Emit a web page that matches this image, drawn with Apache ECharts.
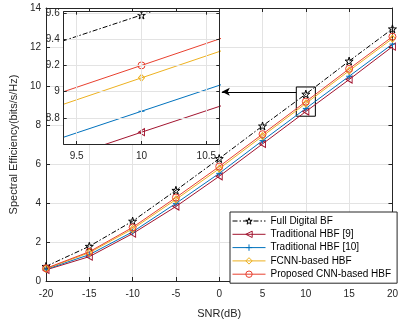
<!DOCTYPE html>
<html><head><meta charset="utf-8">
<script src="https://cdn.jsdelivr.net/npm/echarts@6/dist/echarts.min.js"></script>
<style>html,body{margin:0;padding:0;background:#fff}#c{width:401px;height:324px}</style>
</head><body><div id="c"></div>
<script>
// ---- data ----
const snr = [-20, -15, -10, -5, 0, 5, 10, 15, 20];
const fullDigital = [0.75, 1.78, 3.07, 4.65, 6.28, 7.95, 9.585, 11.28, 12.93];
const hbf9        = [0.57, 1.25, 2.43, 3.82, 5.37, 7.03, 8.69, 10.33, 12.02];
const hbf10       = [0.60, 1.35, 2.52, 3.98, 5.52, 7.20, 8.85, 10.50, 12.15];
const fcnn        = [0.63, 1.45, 2.67, 4.18, 5.76, 7.43, 9.105, 10.78, 12.43];
const cnn         = [0.65, 1.50, 2.75, 4.28, 5.87, 7.53, 9.20, 10.88, 12.53];
const seriesNames = ['Full Digital BF', 'Traditional HBF [9]', 'Traditional HBF [10]', 'FCNN-based HBF', 'Proposed CNN-based HBF'];
const insetXTicks = [9.5, 10, 10.5];
const zoomBoxX = [8.9, 11.1];
const zoomBoxY = [8.45, 9.95];
const arrowY = 9.7;
const arrowEndX = 0.3;

const FONT = '"Liberation Sans", Arial, sans-serif';
const AX = '#262626';
const GRIDC = '#e3e3e3';

const STAR = 'path://M50,0L61,35L98,35L68,57L79,91L50,70L21,91L32,57L2,35L39,35Z';
const TRI_L = 'path://M0,50L100,0L100,100Z';
const PLUS = 'path://M50,0L50,100M0,50L100,50';
const DIAM = 'path://M50,0L100,50L50,100L0,50Z';
const CIRC = 'path://M50,0A50,50 0 1,1 50,100A50,50 0 1,1 50,0Z';

const defs = [
  {name: seriesNames[0], data: fullDigital, color: '#000000', symbol: STAR, size: 8, type: [5, 2, 1.5, 2]},
  {name: seriesNames[1], data: hbf9, color: '#A2142F', symbol: TRI_L, size: [6, 7], type: 'solid'},
  {name: seriesNames[2], data: hbf10, color: '#0072BD', symbol: PLUS, size: 6, type: 'solid'},
  {name: seriesNames[3], data: fcnn, color: '#EDB120', symbol: DIAM, size: [6, 7], type: 'solid'},
  {name: seriesNames[4], data: cnn, color: '#E8402F', symbol: CIRC, size: 7, type: 'solid'}
];

function mk(d, gi, z) {
  return {
    type: 'line', name: d.name,
    xAxisIndex: gi, yAxisIndex: gi,
    data: snr.map((x, i) => [x, d.data[i]]),
    symbol: d.symbol, symbolSize: d.size,
    showAllSymbol: true,
    lineStyle: {color: d.color, width: 1, type: d.type},
    itemStyle: {color: 'rgba(255,255,255,0)', borderColor: d.color, borderWidth: 1},
    emphasis: {disabled: true},
    animation: false, z: z, clip: true
  };
}

const series = [];
defs.forEach(d => series.push(mk(d, 0, 2)));
series[0].markArea = {
  silent: true,
  itemStyle: {color: 'rgba(0,0,0,0)', borderColor: '#000', borderWidth: 1},
  data: [[{coord: [zoomBoxX[0], zoomBoxY[0]]}, {coord: [zoomBoxX[1], zoomBoxY[1]]}]]
};
series[0].markLine = {
  silent: true, z: 8,
  symbol: ['none', 'arrow'], symbolSize: [6, 8],
  lineStyle: {color: '#000', width: 1, type: 'solid'},
  label: {show: false},
  data: [[{coord: [zoomBoxX[0], arrowY]}, {coord: [arrowEndX, arrowY]}]]
};
defs.forEach(d => series.push(mk(d, 1, 10)));

const labelStyle = {color: AX, fontFamily: FONT, fontSize: 10};
function insetYFmt(v) { return (v < 8.65 || v > 9.605) ? '' : String(+v.toFixed(1)); }

const legendData = defs.map(d => ({
  name: d.name,
  itemStyle: {color: 'rgba(255,255,255,0)', borderColor: d.color, borderWidth: 1},
  lineStyle: {color: d.color, width: 1, type: d.type}
}));

const chart = echarts.init(document.getElementById('c'), null, {renderer: 'canvas'});
chart.setOption({
  animation: false,
  backgroundColor: '#fff',
  textStyle: {fontFamily: FONT},
  grid: [
    {left: 39.4, right: 3, top: 8, bottom: 36},
    {left: 63.7, top: 11.7, width: 155.6, height: 132.3, show: true, backgroundColor: '#fff', borderWidth: 0, z: 5}
  ],
  legend: {
    data: legendData,
    orient: 'vertical',
    left: 230, top: 212,
    padding: [3, 6, 3, 2],
    itemWidth: 33, itemHeight: 8, itemGap: 1.3,
    backgroundColor: '#fff', borderColor: '#262626', borderWidth: 1,
    textStyle: {color: '#000', fontFamily: FONT, fontSize: 10, lineHeight: 12},
    selectedMode: false, z: 6
  },
  xAxis: [
    {type: 'value', gridIndex: 0, min: -20, max: 20, interval: 5, position: 'bottom',
     name: 'SNR(dB)', nameLocation: 'middle', nameGap: 27,
     nameTextStyle: {color: AX, fontFamily: FONT, fontSize: 11},
     axisLine: {show: true, onZero: false, lineStyle: {color: AX, width: 1}},
     axisTick: {show: true, inside: true, length: 4, lineStyle: {color: AX}},
     axisLabel: Object.assign({margin: 8}, labelStyle),
     splitLine: {show: true, lineStyle: {color: GRIDC, width: 1}}},
    {type: 'value', gridIndex: 1, min: 9.4, max: 10.6, position: 'bottom', z: 11,
     axisLine: {show: true, onZero: false, lineStyle: {color: AX, width: 1}},
     axisTick: {show: true, inside: true, length: 3, lineStyle: {color: AX}, customValues: insetXTicks},
     axisLabel: Object.assign({margin: 7, customValues: insetXTicks}, labelStyle),
     splitLine: {show: true, lineStyle: {color: GRIDC, width: 1}}},
    {type: 'value', gridIndex: 0, min: -20, max: 20, interval: 5, position: 'top',
     axisLine: {show: true, onZero: false, lineStyle: {color: AX, width: 1}},
     axisTick: {show: true, inside: true, length: 4, lineStyle: {color: AX}},
     axisLabel: {show: false}, splitLine: {show: false}},
    {type: 'value', gridIndex: 1, min: 9.4, max: 10.6, position: 'top', z: 11,
     axisLine: {show: true, onZero: false, lineStyle: {color: AX, width: 1}},
     axisTick: {show: true, inside: true, length: 3, lineStyle: {color: AX}, customValues: insetXTicks},
     axisLabel: {show: false}, splitLine: {show: false}}
  ],
  yAxis: [
    {type: 'value', gridIndex: 0, min: 0, max: 14, interval: 2, position: 'left',
     name: 'Spectral Efficiency(bits/s/Hz)', nameLocation: 'middle', nameGap: 22,
     nameTextStyle: {color: AX, fontFamily: FONT, fontSize: 11},
     axisLine: {show: true, onZero: false, lineStyle: {color: AX, width: 1}},
     axisTick: {show: true, inside: true, length: 4, lineStyle: {color: AX}},
     axisLabel: Object.assign({margin: 5}, labelStyle),
     splitLine: {show: true, lineStyle: {color: GRIDC, width: 1}}},
    {type: 'value', gridIndex: 1, min: 8.6, max: 9.61, interval: 0.2, position: 'left', z: 11,
     axisLine: {show: true, onZero: false, lineStyle: {color: AX, width: 1}},
     axisTick: {show: true, inside: true, length: 3, lineStyle: {color: AX}},
     axisLabel: Object.assign({margin: 4, formatter: insetYFmt, showMaxLabel: false}, labelStyle),
     splitLine: {show: true, lineStyle: {color: GRIDC, width: 1}}},
    {type: 'value', gridIndex: 0, min: 0, max: 14, interval: 2, position: 'right',
     axisLine: {show: true, onZero: false, lineStyle: {color: AX, width: 1}},
     axisTick: {show: true, inside: true, length: 4, lineStyle: {color: AX}},
     axisLabel: {show: false}, splitLine: {show: false}},
    {type: 'value', gridIndex: 1, min: 8.6, max: 9.61, interval: 0.2, position: 'right', z: 11,
     axisLine: {show: true, onZero: false, lineStyle: {color: AX, width: 1}},
     axisTick: {show: true, inside: true, length: 3, lineStyle: {color: AX}},
     axisLabel: {show: false}, splitLine: {show: false}}
  ],
  series: series
});
</script></body></html>
